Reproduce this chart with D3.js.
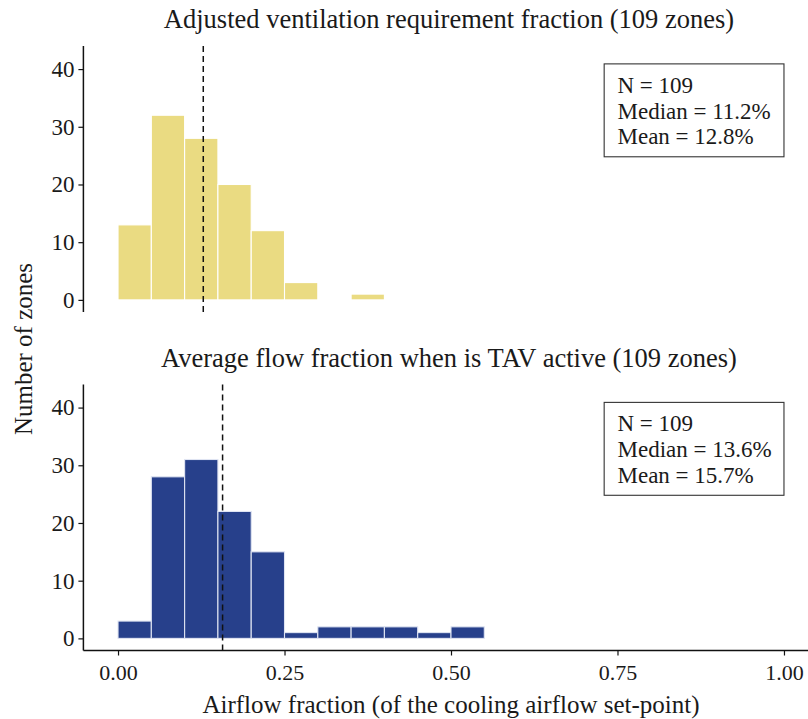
<!DOCTYPE html>
<html>
<head>
<meta charset="utf-8">
<script src="https://cdn.jsdelivr.net/npm/d3@7"></script>
<style>
  html, body { margin: 0; padding: 0; background: #fff; }
  svg text { font-family: "Liberation Serif", "Times New Roman", Times, Tinos, "DejaVu Serif", serif !important; fill: #1a1a1a; }
</style>
</head>
<body>
<svg id="chart" width="808" height="719"></svg>
<script>
// Histogram bins are 0.05 wide, starting at 0
const binWidth = 0.05;
const ventCounts = [13, 32, 28, 20, 12, 3, 0, 1];
const flowCounts = [3, 28, 31, 22, 15, 1, 2, 2, 2, 1, 2];

const panelTitles = [
  "Adjusted ventilation requirement fraction (109 zones)",
  "Average flow fraction when is TAV active (109 zones)"
];
const nZones = [109, 109];
const medians = [11.2, 13.6];   // percent
const means = [12.8, 15.7];     // percent, drawn as dashed lines
const fillColors = ["#EADB82", "#27408B"];

const xTicks = [0, 0.25, 0.5, 0.75, 1.0];
const yTicks = [0, 10, 20, 30, 40];

const FONT = "'Liberation Serif', 'Times New Roman', Times, 'DejaVu Serif', serif";
const svg = d3.select("#chart");

const x = d3.scaleLinear().domain([-0.052, 1.052]).range([83.4, 818.6]);
const panelTops = [46, 384.5];
const panelHeight = 266;
const yDomain = [-2.1, 44];

const panels = [
  { counts: ventCounts, showX: false },
  { counts: flowCounts, showX: true }
];

panels.forEach((p, i) => {
  const top = panelTops[i];
  const y = d3.scaleLinear().domain(yDomain).range([top + panelHeight, top]);
  const g = svg.append("g");

  // bars
  const bins = p.counts.map((c, k) => ({ x0: k * binWidth, x1: (k + 1) * binWidth, n: c }))
                       .filter(d => d.n > 0);
  g.selectAll("rect.bar").data(bins).enter().append("rect")
    .attr("class", "bar")
    .attr("x", d => x(d.x0))
    .attr("width", d => x(d.x1) - x(d.x0))
    .attr("y", d => y(d.n))
    .attr("height", d => y(0) - y(d.n))
    .attr("fill", fillColors[i])
    .attr("stroke", i === 0 ? "#ffffff" : "#dfe4f2")
    .attr("stroke-width", 1.1);

  // mean line
  g.append("line")
    .attr("x1", x(means[i] / 100)).attr("x2", x(means[i] / 100))
    .attr("y1", top).attr("y2", top + panelHeight)
    .attr("stroke", "#111").attr("stroke-width", 1.5)
    .attr("stroke-dasharray", "6,4");

  // y axis
  const yAxis = g.append("g")
    .attr("transform", `translate(${x.range()[0]},0)`)
    .call(d3.axisLeft(y).tickValues(yTicks).tickSize(5).tickPadding(4).tickFormat(d3.format("d")))
    .attr("font-family", FONT);
  yAxis.select(".domain").attr("stroke", "#111").attr("stroke-width", 1.5)
    .attr("d", `M0,${top}V${top + panelHeight}`);
  yAxis.selectAll(".tick line").attr("stroke", "#111").attr("stroke-width", 1.2);
  yAxis.selectAll(".tick text").style("font-size", "23px").attr("fill", "#1a1a1a");

  // x axis (bottom panel only)
  if (p.showX) {
    const xAxis = g.append("g")
      .attr("transform", `translate(0,${top + panelHeight})`)
      .call(d3.axisBottom(x).tickValues(xTicks).tickSize(5).tickPadding(9).tickFormat(d3.format(".2f")))
      .attr("font-family", FONT);
    xAxis.select(".domain").attr("stroke", "#111").attr("stroke-width", 1.5)
      .attr("d", `M${x.range()[0]},0H${x.range()[1]}`);
    xAxis.selectAll(".tick line").attr("stroke", "#111").attr("stroke-width", 1.2);
    xAxis.selectAll(".tick text").style("font-size", "22px").attr("fill", "#1a1a1a");
  }

  // panel title
  g.append("text")
    .attr("x", 449)
    .attr("y", top - 18)
    .attr("text-anchor", "middle")
    .style("font-size", "26.5px")
    .text(panelTitles[i]);

  // summary box
  const boxX0 = 0.73, boxX1 = 1.0, boxTop = 40.9, boxBottom = 24.8;
  g.append("rect")
    .attr("x", x(boxX0)).attr("y", y(boxTop))
    .attr("width", x(boxX1) - x(boxX0)).attr("height", y(boxBottom) - y(boxTop))
    .attr("fill", "#fff").attr("stroke", "#333").attr("stroke-width", 1.1);
  const lines = [`N = ${nZones[i]}`, `Median = ${medians[i].toFixed(1)}%`, `Mean = ${means[i].toFixed(1)}%`];
  const baselines = [35.9, 31.4, 27.0];
  g.selectAll("text.stat").data(lines).enter().append("text")
    .attr("class", "stat")
    .attr("x", x(0.75))
    .attr("y", (d, k) => y(baselines[k]))
    .style("font-size", "23px")
    .text(d => d);
});

// shared axis titles
svg.append("text")
  .attr("x", (x.range()[0] + x.range()[1]) / 2)
  .attr("y", 713)
  .attr("text-anchor", "middle")
  .style("font-size", "25px")
  .text("Airflow fraction (of the cooling airflow set-point)");

svg.append("text")
  .attr("transform", "translate(32,349) rotate(-90)")
  .attr("text-anchor", "middle")
  .style("font-size", "25px")
  .text("Number of zones");
</script>
</body>
</html>
